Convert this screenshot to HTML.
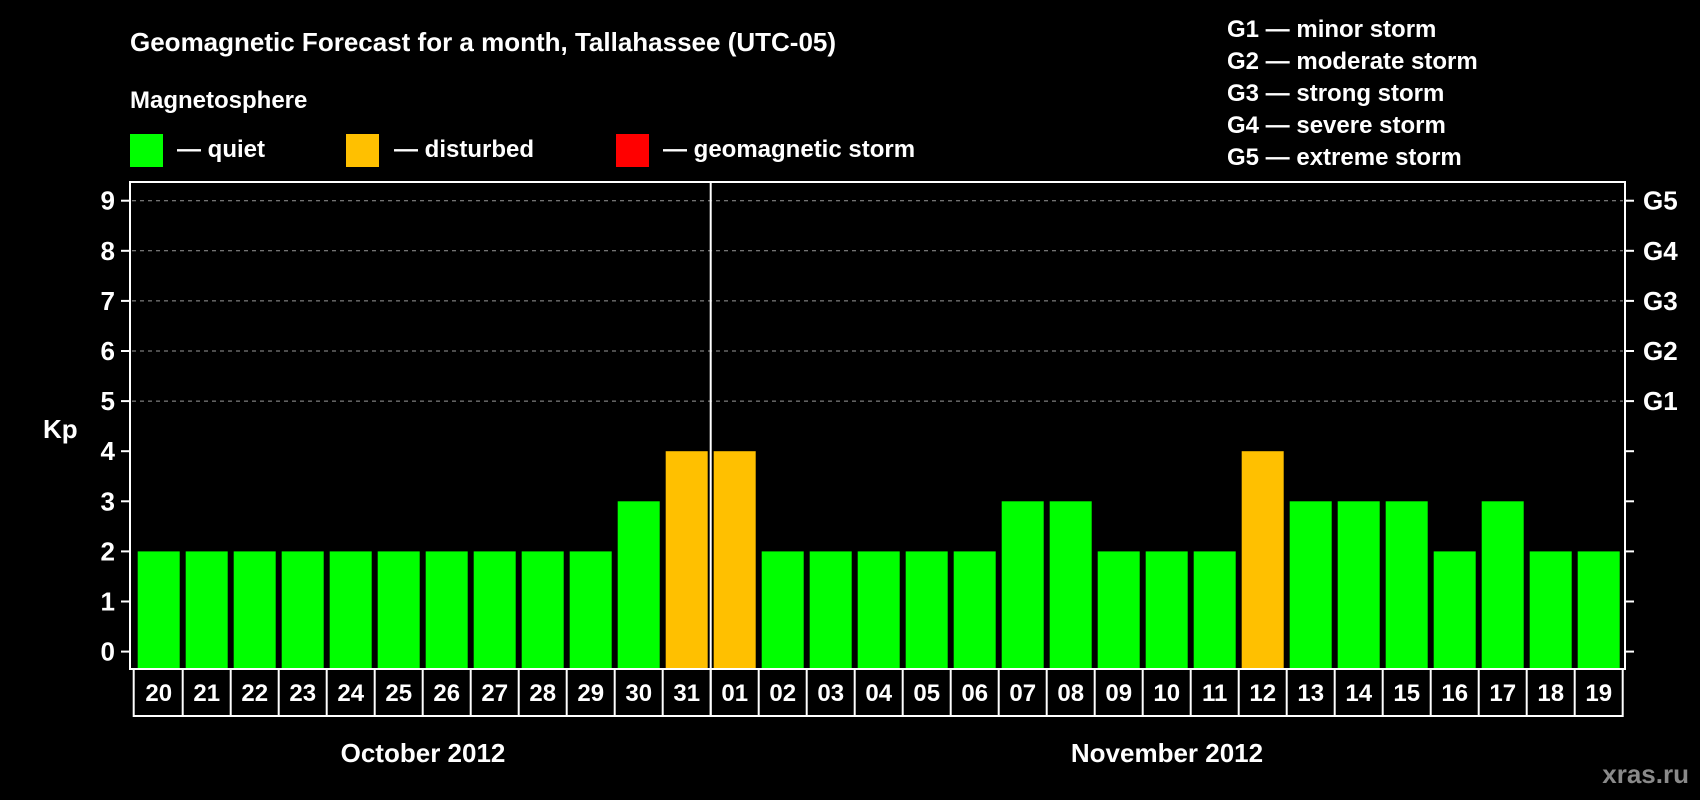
<!DOCTYPE html>
<html><head><meta charset="utf-8"><style>
html,body{margin:0;padding:0;background:#000;}
svg{display:block;font-family:"Liberation Sans",Arial,sans-serif;font-weight:bold;}
</style></head><body>
<svg id="chart" width="1700" height="800" viewBox="0 0 1700 800">
<rect x="0" y="0" width="1700" height="800" fill="#000"/>
<text x="130" y="51" fill="#fff" font-size="26">Geomagnetic Forecast for a month, Tallahassee (UTC-05)</text>
<text x="130" y="108" fill="#fff" font-size="24">Magnetosphere</text>
<g>
<rect x="130" y="134" width="33" height="33" fill="#00ff00"/>
<text x="177" y="157" fill="#fff" font-size="24">— quiet</text>
<rect x="346" y="134" width="33" height="33" fill="#ffc000"/>
<text x="394" y="157" fill="#fff" font-size="24">— disturbed</text>
<rect x="616" y="134" width="33" height="33" fill="#ff0000"/>
<text x="663" y="157" fill="#fff" font-size="24">— geomagnetic storm</text>
</g>
<g fill="#fff" font-size="24">
<text x="1227" y="37">G1 — minor storm</text>
<text x="1227" y="69">G2 — moderate storm</text>
<text x="1227" y="101">G3 — strong storm</text>
<text x="1227" y="133">G4 — severe storm</text>
<text x="1227" y="165">G5 — extreme storm</text>
</g>
<text x="43" y="438" fill="#fff" font-size="26">Kp</text>
<g id="plot"></g>
<text x="423" y="762" fill="#fff" font-size="26" text-anchor="middle">October 2012</text>
<text x="1167" y="762" fill="#fff" font-size="26" text-anchor="middle">November 2012</text>
<text x="1689" y="783" fill="#8a8a8a" font-size="26" text-anchor="end">xras.ru</text>
</svg>
<script>
const days = ["20","21","22","23","24","25","26","27","28","29","30","31","01","02","03","04","05","06","07","08","09","10","11","12","13","14","15","16","17","18","19"];
const kpValues = [2,2,2,2,2,2,2,2,2,2,3,4,4,2,2,2,2,2,3,3,2,2,2,4,3,3,3,2,3,2,2];
const yTicks = [0,1,2,3,4,5,6,7,8,9];
const gLabels = ["G1","G2","G3","G4","G5"];
const gLevels = [5,6,7,8,9];
const monthSplitIndex = 12;

const NS = "http://www.w3.org/2000/svg";
const plot = document.getElementById("plot");
const L = 130, R = 1625, T = 182, B = 669;
const Y0 = 651.6, unit = 50.1;
const firstBar = 137.7, pitch = 48, bw = 42;
function y(v){ return Y0 - v*unit; }
function x(i){ return firstBar + i*pitch; }
function mk(tag, attrs){ const e=document.createElementNS(NS,tag); for(const k in attrs) e.setAttribute(k,attrs[k]); plot.appendChild(e); return e; }

gLevels.forEach((lv,i)=>{
  const g = mk("line",{x1:L+2,x2:R-2,y1:y(lv),y2:y(lv),stroke:"#999","stroke-width":1,"stroke-dasharray":"4,4"});
  
  
  const t = mk("line",{x1:R,x2:R+9,y1:y(lv),y2:y(lv),stroke:"#fff","stroke-width":2});
  
  
  const lab = mk("text",{x:R+18,y:y(lv)+9,fill:"#fff","font-size":26});
  lab.textContent = gLabels[i];
  
  
});
yTicks.forEach(v=>{
  const t = mk("line",{x1:L-9,x2:L,y1:y(v),y2:y(v),stroke:"#fff","stroke-width":2});
  
  
  if(v<5){
    const t2 = mk("line",{x1:R,x2:R+9,y1:y(v),y2:y(v),stroke:"#fff","stroke-width":2});
    
    
  }
  const lab = mk("text",{x:L-15,y:y(v)+9,fill:"#fff","font-size":26,"text-anchor":"end"});
  lab.textContent = v;
  
  
});
kpValues.forEach((v,i)=>{
  const col = v>=5 ? "#ff0000" : (v>=4 ? "#ffc000" : "#00ff00");
  const b = mk("rect",{x:x(i),y:y(v),width:bw,height:B-y(v),fill:col});
  
  
});
const frame = mk("rect",{x:L,y:T,width:R-L,height:B-T,fill:"none",stroke:"#fff","stroke-width":2});


const rowTop = B, rowBot = 716;
const rowL = x(0)-4, rowR = x(days.length-1)+bw+3;
const row = mk("rect",{x:rowL,y:rowTop,width:rowR-rowL,height:rowBot-rowTop,fill:"none",stroke:"#fff","stroke-width":2});


days.forEach((d,i)=>{
  if(i>0){
    const s = mk("line",{x1:x(i)-3,x2:x(i)-3,y1:rowTop,y2:rowBot,stroke:"#fff","stroke-width":2});
    
    
  }
  const t = mk("text",{x:x(i)+bw/2,y:701,fill:"#fff","font-size":24,"text-anchor":"middle"});
  t.textContent = d;
  
  
});
const sx = x(monthSplitIndex)-3;
const sep = mk("line",{x1:sx,x2:sx,y1:T,y2:rowBot,stroke:"#fff","stroke-width":2});


</script>
</body></html>
